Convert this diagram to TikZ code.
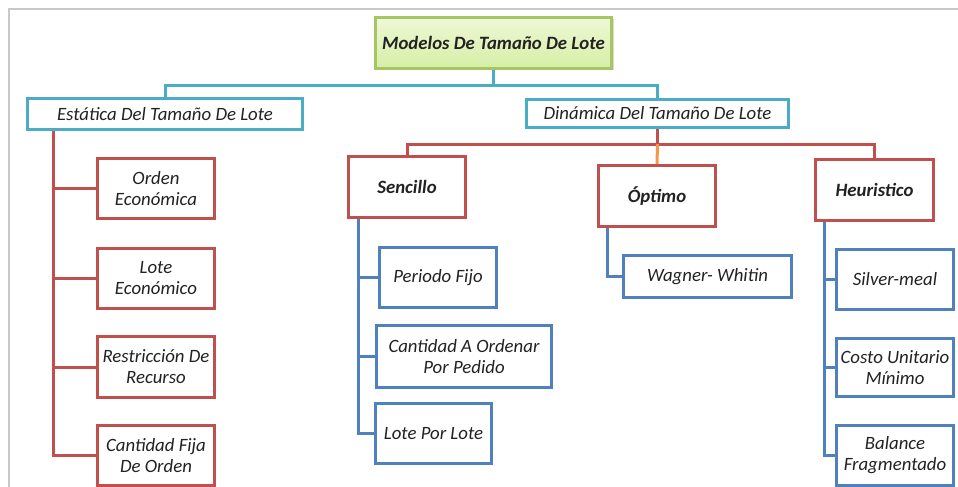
\documentclass[tikz,border=0pt]{standalone}
\usepackage{fontspec}
\setmainfont{Carlito}
\usetikzlibrary{shadows}
\definecolor{boxred}{HTML}{C0504D}
\definecolor{boxblue}{HTML}{4F81BD}
\definecolor{boxcyan}{HTML}{4BACC6}
\definecolor{boxgreen}{HTML}{A5C663}
\definecolor{greentop}{HTML}{EEF8D6}
\definecolor{greenbot}{HTML}{D6EEA6}
\definecolor{linkorange}{HTML}{F79646}
\definecolor{framegray}{HTML}{C8C8C8}
\definecolor{txt}{HTML}{222222}
\tikzset{
  box/.style={draw, line width=3pt, fill=white, inner sep=0pt, align=center,
    text=txt, font=\fontsize{18.8}{21}\selectfont\itshape},
  redbox/.style={box, draw=boxred},
  bluebox/.style={box, draw=boxblue},
  cyanbox/.style={box, draw=boxcyan},
  headbox/.style={redbox, font=\fontsize{18.8}{21}\selectfont\bfseries\itshape},
  rootbox/.style={box, draw=boxgreen, top color=greentop, bottom color=greenbot,
    font=\fontsize{18.8}{21}\selectfont\bfseries\itshape,
    drop shadow={shadow xshift=2pt, shadow yshift=-2pt, opacity=0.3}},
  link/.style={line width=3pt},
}
\begin{document}
\begin{tikzpicture}[x=1pt, y=-1pt]
  \useasboundingbox (0,0) rectangle (958,487);
  \clip (0,0) rectangle (958,487);

  % page frame
  \draw[framegray, line width=1.5pt] (9,487) -- (9,9) -- (958,9);

  % root
  \node[rootbox, minimum width=236pt, minimum height=51pt] (root) at (493.5,43) {Modelos De Tamaño De Lote};

  % second level
  \node[cyanbox, minimum width=275pt, minimum height=31pt] (est) at (165,114) {Estática Del Tamaño De Lote};
  \node[cyanbox, minimum width=262pt, minimum height=28pt] (din) at (657.5,113.5) {Dinámica Del Tamaño De Lote};

  % static models
  \node[redbox, minimum width=117pt, minimum height=60pt] (oe) at (156,188.5) {Orden\\Económica};
  \node[redbox, minimum width=117pt, minimum height=60pt] (le) at (156,278.5) {Lote\\Económico};
  \node[redbox, minimum width=117pt, minimum height=61pt] (rr) at (156,367) {Restricción De\\Recurso};
  \node[redbox, minimum width=117pt, minimum height=60pt] (cf) at (156,455.5) {Cantidad Fija\\De Orden};

  % dynamic model families
  \node[headbox, minimum width=117pt, minimum height=61pt] (sen) at (407,187) {Sencillo};
  \node[headbox, minimum width=117pt, minimum height=61pt] (opt) at (657,196) {Óptimo};
  \node[headbox, minimum width=118pt, minimum height=61pt] (heu) at (874.5,190) {Heuristico};

  % leaves
  \node[bluebox, minimum width=117pt, minimum height=60pt] (pf) at (438,277.5) {Periodo Fijo};
  \node[bluebox, minimum width=175pt, minimum height=62pt] (ca) at (464,356.5) {Cantidad A Ordenar\\Por Pedido};
  \node[bluebox, minimum width=116pt, minimum height=60pt] (lpl) at (433.5,433.5) {Lote Por Lote};
  \node[bluebox, minimum width=168pt, minimum height=42pt] (ww) at (707.5,276.5) {Wagner- Whitin};
  \node[bluebox, minimum width=117pt, minimum height=60pt] (sm) at (895,279.5) {Silver-meal};
  \node[bluebox, minimum width=117pt, minimum height=58pt] (cu) at (895,367.5) {Costo Unitario\\Mínimo};
  \node[bluebox, minimum width=117pt, minimum height=60pt] (bf) at (895,455.5) {Balance\\Fragmentado};

  % connectors: root to second level
  \draw[link, boxcyan] (root.south) -- ++(0,15) coordinate (rj);
  \draw[link, boxcyan] (rj) -| (est.north);
  \draw[link, boxcyan] (rj) -| (din.north);

  % static branch
  \coordinate (ebus) at ([xshift=27.5pt]est.south west);
  \draw[link, boxred] (ebus) |- (oe.west);
  \draw[link, boxred] (ebus) |- (le.west);
  \draw[link, boxred] (ebus) |- (rr.west);
  \draw[link, boxred] (ebus) |- (cf.west);

  % dynamic branch
  \draw[link, boxred] (din.south) -- ++(0,15) coordinate (dj);
  \draw[link, boxred] (dj) -| (sen.north);
  \draw[link, boxred] (dj) -| (heu.north);
  \draw[link, linkorange] (dj) -- (opt.north);

  % leaf buses
  \coordinate (sbus) at ([xshift=11.5pt]sen.south west);
  \draw[link, boxblue] (sbus) |- (pf.west);
  \draw[link, boxblue] (sbus) |- (ca.west);
  \draw[link, boxblue] (sbus) |- (lpl.west);

  \coordinate (obus) at ([xshift=10.5pt]opt.south west);
  \draw[link, boxblue] (obus) |- (ww.west);

  \coordinate (hbus) at ([xshift=10.5pt]heu.south west);
  \draw[link, boxblue] (hbus) |- (sm.west);
  \draw[link, boxblue] (hbus) |- (cu.west);
  \draw[link, boxblue] (hbus) |- (bf.west);
\end{tikzpicture}
\end{document}
